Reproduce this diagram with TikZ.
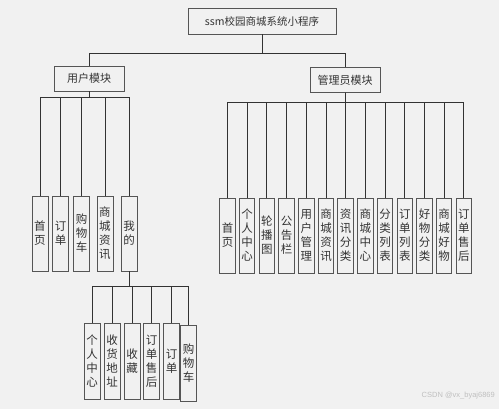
\documentclass[tikz,border=0pt]{standalone}
\usepackage{fontspec}
\setmainfont{Noto Sans CJK SC}
\newfontfamily\wmfont{Liberation Sans}
\definecolor{bg}{HTML}{F1F1F1}
\definecolor{edge}{HTML}{555555}
\definecolor{txt}{HTML}{333333}
\begin{document}
\begin{tikzpicture}[x=1pt,y=-1pt,
  box/.style={draw=edge,line width=0.95pt,inner sep=0pt,text=txt,align=center},
  top/.style={box,minimum width=148pt,minimum height=26pt,font=\fontsize{10.5}{12}\selectfont},
  mod/.style={box,minimum width=70pt,minimum height=25pt,font=\fontsize{11}{12}\selectfont},
  leaf/.style={box,minimum width=16pt,minimum height=75pt,font=\fontsize{11.5}{14}\selectfont},
  link/.style={draw=black!80,line width=0.9pt}]
\fill[bg] (0,0) rectangle (499,409);
\useasboundingbox (0,0) rectangle (499,409);
\node[top] (root) at (262,21) {ssm校园商城系统小程序};
\node[mod] (user) at (89,78.5) {用户模块};
\node[mod] (admin) at (345,80) {管理员模块};
\draw[link] (root.south) -- ++(0,19) -| (user.north);
\draw[link] (root.south) ++(0,19) -| (admin.north);
% user leaves
\node[leaf] (u1) at (40,233.5) {首\\页};
\node[leaf] (u2) at (60.5,233.5) {订\\单};
\node[leaf] (u3) at (81.5,233.5) {购\\物\\车};
\node[leaf] (u4) at (105,233.5) {商\\城\\资\\讯};
\node[leaf] (u5) at (129,233.5) {我\\的};
\foreach \n in {u1,u2,u3,u4,u5}{\draw[link] (user.south) -- ++(0,6) -| (\n.north);}
% admin leaves
\node[leaf,minimum width=15.5pt] (a1) at (227.5,235.5) {首\\页};
\node[leaf,minimum width=15.5pt] (a2) at (247.2,235.5) {个\\人\\中\\心};
\node[leaf,minimum width=15.5pt] (a3) at (266.9,235.5) {轮\\播\\图};
\node[leaf,minimum width=15.5pt] (a4) at (286.6,235.5) {公\\告\\栏};
\node[leaf,minimum width=15.5pt] (a5) at (306.3,235.5) {用\\户\\管\\理};
\node[leaf,minimum width=15.5pt] (a6) at (326,235.5) {商\\城\\资\\讯};
\node[leaf,minimum width=15.5pt] (a7) at (345.7,235.5) {资\\讯\\分\\类};
\node[leaf,minimum width=15.5pt] (a8) at (365.4,235.5) {商\\城\\中\\心};
\node[leaf,minimum width=15.5pt] (a9) at (385.1,235.5) {分\\类\\列\\表};
\node[leaf,minimum width=15.5pt] (a10) at (404.8,235.5) {订\\单\\列\\表};
\node[leaf,minimum width=15.5pt] (a11) at (424.5,235.5) {好\\物\\分\\类};
\node[leaf,minimum width=15.5pt] (a12) at (444.2,235.5) {商\\城\\好\\物};
\node[leaf,minimum width=15.5pt] (a13) at (463.9,235.5) {订\\单\\售\\后};
\foreach \n in {a1,a2,a3,a4,a5,a6,a7,a8,a9,a10,a11,a12,a13}{\draw[link] (admin.south) -- ++(0,9) -| (\n.north);}
% sub leaves of 我的
\node[leaf,minimum height=76pt] (m1) at (92,361) {个\\人\\中\\心};
\node[leaf,minimum height=76pt] (m2) at (112,361) {收\\货\\地\\址};
\node[leaf,minimum height=76pt] (m3) at (132,361) {收\\藏};
\node[leaf,minimum height=76pt] (m4) at (151.5,361) {订\\单\\售\\后};
\node[leaf,minimum height=76pt] (m5) at (171.5,361) {订\\单};
\node[leaf,minimum height=76pt] (m6) at (188.5,363) {购\\物\\车};
\foreach \n in {m1,m2,m3,m4,m5,m6}{\draw[link] (u5.south) -- ++(0,15) -| (\n.north);}
\node[text=black!25,font=\wmfont\fontsize{7.5}{8}\selectfont,anchor=east,inner sep=0pt] (wm) at (495,396) {CSDN @vx\_byaj6869};
\end{tikzpicture}
\end{document}
